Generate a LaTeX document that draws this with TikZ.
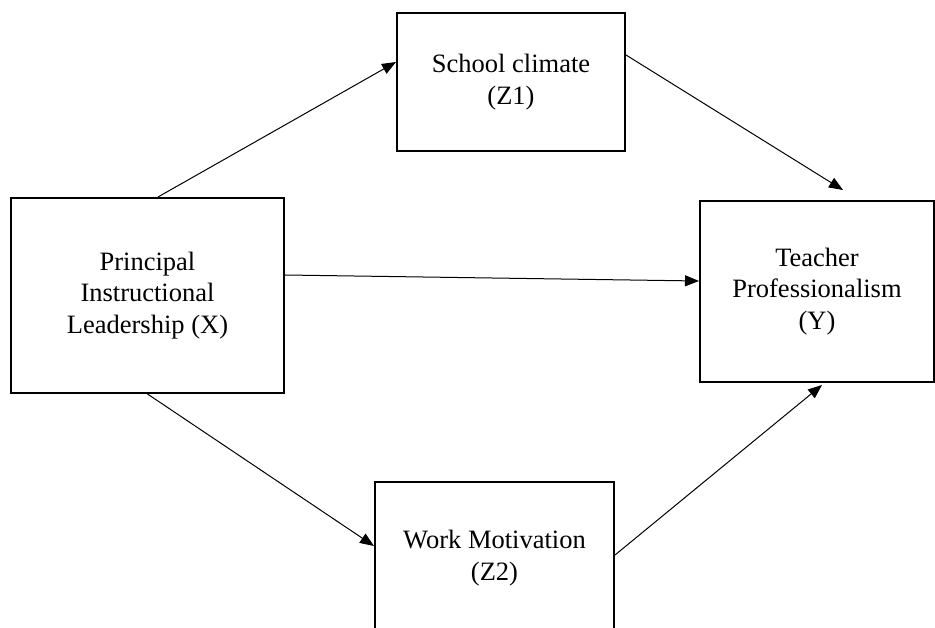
\documentclass[tikz,border=0pt]{standalone}
\usepackage{fontspec}
\setmainfont{Liberation Serif}
\usetikzlibrary{arrows.meta}
\begin{document}
\begin{tikzpicture}[x=1pt,y=-1pt,
  box/.style={draw=black,line width=2pt,rectangle,inner sep=0pt,align=center,
    font=\fontsize{26.5}{31.5}\selectfont},
  conn/.style={line width=1pt,-{Triangle[length=14pt,width=11pt]}}]
\clip (0,0) rectangle (935,628);
\fill[white] (0,0) rectangle (935,628);
\node[box,minimum width=273pt,minimum height=195pt] (X) at (147.5,295.5) {Principal\\Instructional\\Leadership (X)};
\node[box,minimum width=228pt,minimum height=138pt] (Z1) at (511,82) {School climate\\(Z1)};
\node[box,minimum width=234pt,minimum height=181pt] (Y) at (817,291.5) {Teacher\\Professionalism\\(Y)};
\node[box,minimum width=239pt,minimum height=152pt] (Z2) at (494.5,558) {Work Motivation\\(Z2)};
\draw[conn] ([xshift=10.5pt]X.north) -- ([yshift=20pt]Z1.west);
\draw[conn] ([yshift=27pt]Z1.east) -- ([xshift=26pt,yshift=10pt]Y.north);
\draw[conn] ([yshift=20.5pt]X.east) -- ([yshift=10.5pt]Y.west);
\draw[conn] (X.south) -- ([yshift=12pt]Z2.west);
\draw[conn] ([yshift=3pt]Z2.east) -- ([xshift=5pt,yshift=-2pt]Y.south);
\end{tikzpicture}
\end{document}
